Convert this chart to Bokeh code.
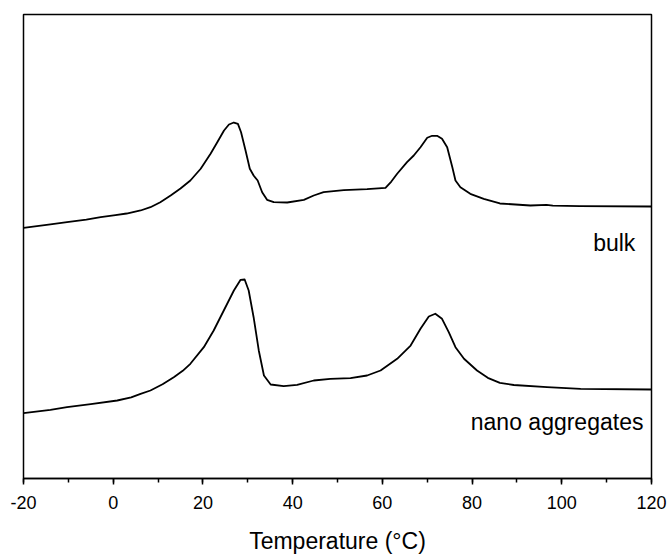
from bokeh.plotting import figure
from bokeh.models import Range1d, SingleIntervalTicker, Label, PrintfTickFormatter
from bokeh.embed import file_html
from bokeh.resources import INLINE

# Temperature (°C) and heat flow (arbitrary units, 0-100 scale)
bulk_t = [-20, -14.0, -10.3, -6.0, -2.8, 0.5, 3.0, 6.1, 8.3, 10.5, 12.8, 15.0, 17.2, 19.5,
          21.7, 23.2, 24.7, 25.8, 26.9, 27.8, 28.5, 29.5, 30.45, 31.3, 32.2, 33.2, 34.3,
          35.8, 38.8, 42.5, 44.7, 46.9, 51.4, 56.6, 60.7, 62.0, 63.3, 65.5, 67.0, 68.5,
          70.0, 71.1, 72.2, 73.3, 74.45, 75.6, 76.3, 77.4, 79.6, 82.6, 86.2, 93.0, 96.6,
          98.0, 104.0, 120.0]
bulk_q = [54.03, 54.75, 55.24, 55.80, 56.31, 56.75, 57.11, 57.76, 58.47, 59.55, 60.99, 62.50,
          64.22, 66.75, 69.98, 72.48, 75.00, 76.29, 76.72, 76.44, 74.63, 70.69, 66.75, 65.30,
          64.22, 61.70, 60.06, 59.55, 59.48, 60.06, 60.99, 61.70, 62.13, 62.35, 62.65, 64.00,
          65.67, 68.17, 69.61, 71.40, 73.43, 73.86, 73.86, 73.21, 71.40, 67.09, 64.22, 62.78,
          61.36, 60.28, 59.27, 58.84, 58.99, 58.79, 58.69, 58.62]

nano_t = [-20, -14.0, -10.3, -5.0, 0.9, 4.0, 6.1, 8.3, 11.0, 13.5, 15.5, 17.2, 20.2, 22.4,
          24.65, 26.9, 28.4, 29.3, 30.2, 31.3, 32.45, 33.6, 35.1, 38.0, 41.0, 44.7, 48.4,
          52.9, 56.6, 59.6, 63.3, 66.3, 68.5, 70.35, 71.8, 73.3, 74.8, 76.3, 78.2, 81.1,
          83.5, 86.2, 89.3, 96.7, 104.2, 120.0]
nano_q = [14.07, 14.80, 15.37, 16.05, 16.81, 17.50, 18.25, 18.97, 20.30, 21.83, 23.20, 24.72,
          28.30, 31.90, 36.21, 40.52, 42.82, 42.89, 40.52, 34.76, 27.59, 22.20, 20.26, 19.89,
          20.19, 21.12, 21.49, 21.62, 22.20, 23.28, 25.80, 28.66, 32.26, 34.91, 35.50, 34.42,
          31.53, 28.30, 25.80, 23.28, 21.70, 20.60, 20.15, 19.68, 19.33, 19.18]

labels = ["bulk", "nano aggregates"]
label_pos_t = [116.4, 118.2]
label_pos_q = [50.86, 12.28]

FONT = "Liberation Sans"

p = figure(width=668, height=557, output_backend="svg", toolbar_location=None,
           x_range=Range1d(-20, 120), y_range=Range1d(0, 100),
           y_axis_location=None, min_border_left=23, min_border_right=17,
           min_border_top=14, min_border_bottom=79)
p.grid.visible = False
p.background_fill_color = "white"
p.border_fill_color = "white"
p.outline_line_color = "black"
p.outline_line_width = 1.5

ax = p.xaxis[0]
ax.ticker = SingleIntervalTicker(interval=20, num_minor_ticks=2)
ax.formatter = PrintfTickFormatter(format="%d")
ax.axis_line_color = "black"
ax.axis_line_width = 1.5
ax.major_tick_line_width = 1.5
ax.minor_tick_line_width = 1.5
ax.major_tick_in = 0
ax.major_tick_out = 6
ax.minor_tick_in = 0
ax.minor_tick_out = 4
ax.major_label_text_font = FONT
ax.major_label_text_font_size = "18px"
ax.major_label_text_color = "black"
ax.major_label_standoff = 11
ax.axis_label = "Temperature (°C)"
ax.axis_label_text_font = FONT
ax.axis_label_text_font_size = "23px"
ax.axis_label_text_font_style = "normal"
ax.axis_label_text_color = "black"
ax.axis_label_standoff = 16

p.line(bulk_t, bulk_q, line_color="black", line_width=1.8, line_join="round")
p.line(nano_t, nano_q, line_color="black", line_width=1.8, line_join="round")

for txt, tx, ty in zip(labels, label_pos_t, label_pos_q):
    p.add_layout(Label(x=tx, y=ty, text=txt, text_font=FONT, text_font_size="23px",
                       text_align="right", text_baseline="alphabetic", text_color="black"))

open("out.html", "w").write(file_html(p, INLINE))
